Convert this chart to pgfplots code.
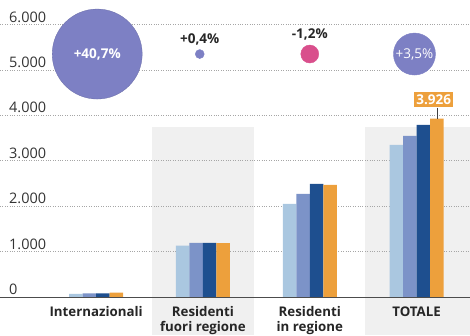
\documentclass[border=0pt]{standalone}
\usepackage{pgfplots}
\pgfplotsset{compat=1.18}
\usepackage{fontspec}
\setmainfont{Open Sans}
\definecolor{cA}{HTML}{AAC7E0}
\definecolor{cB}{HTML}{7C93C8}
\definecolor{cC}{HTML}{1E4F8F}
\definecolor{cD}{HTML}{EDA03C}
\definecolor{bub}{HTML}{7D80C4}
\definecolor{pinkb}{HTML}{D94F8C}
\definecolor{band}{HTML}{F0F0F0}
\definecolor{txt}{HTML}{333333}
\begin{document}
\begin{tikzpicture}
\begin{axis}[
  set layers=standard,
  scale only axis, width=470pt, height=297pt,
  xmin=-0.9, xmax=3.5, ymin=0, ymax=6540,
  clip=false,
  axis line style={draw=none},
  major tick length=0pt,
  xtick={0,1,2,3},
  xticklabels={Internazionali,{Residenti\\fuori regione},{Residenti\\in regione},TOTALE},
  xticklabel style={align=center, font=\bfseries\fontsize{13.3}{15}\selectfont, text=black!85, anchor=north, yshift=-6pt},
  ytick={0,1000,2000,3000,4000,5000,6000},
  yticklabel style={anchor=south west, inner sep=1pt, xshift=8pt, yshift=1pt, font=\fontsize{14.5}{16}\selectfont, text=txt},
  /pgf/number format/.cd, 1000 sep={.}, assume math mode=true, /pgfplots/.cd,
  ymajorgrids, grid style={dotted, line width=0.7pt, gray!70},
  ybar=0pt, bar width=13.5pt,
]
\begin{pgfonlayer}{axis background}
\fill[band] (axis cs:0.52,-840) rectangle (axis cs:1.48,3750);
\fill[band] (axis cs:2.52,-840) rectangle (axis cs:3.5,3750);
\end{pgfonlayer}
\addplot[fill=cA, draw=none] coordinates {(0,70) (1,1130) (2,2050) (3,3350)};
\addplot[fill=cB, draw=none] coordinates {(0,80) (1,1190) (2,2270) (3,3550)};
\addplot[fill=cC, draw=none] coordinates {(0,80) (1,1190) (2,2490) (3,3790)};
\addplot[fill=cD, draw=none] coordinates {(0,95) (1,1185) (2,2470) (3,3926)};
\draw[black!70, line width=0.9pt] (axis cs:-0.9,0) -- (axis cs:3.5,0);
% bubbles
\addplot[color=bub, only marks, mark=*, mark size=45pt, mark options={fill=bub, draw=bub!85!black, line width=0.3pt}, forget plot] coordinates {(0.01,5350)};
\addplot[color=bub, only marks, mark=*, mark size=4.5pt, mark options={fill=bub, draw=bub}, forget plot] coordinates {(0.97,5350)};
\addplot[color=pinkb, only marks, mark=*, mark size=9pt, mark options={fill=pinkb, draw=pinkb}, forget plot] coordinates {(2.0,5350)};
\addplot[color=bub, only marks, mark=*, mark size=21pt, mark options={fill=bub, draw=bub}, forget plot] coordinates {(2.98,5350)};
\begin{pgfonlayer}{axis foreground}
\node[text=white, font=\bfseries\fontsize{13.5}{15}\selectfont] at (axis cs:0.01,5350) {+40,7\%};
\node[text=black!85, font=\bfseries\fontsize{13.5}{15}\selectfont] at (axis cs:0.97,5680) {+0,4\%};
\node[text=black!85, font=\bfseries\fontsize{13.5}{15}\selectfont] at (axis cs:2.0,5790) {-1,2\%};
\node[text=white, font=\fontsize{13.5}{15}\selectfont] at (axis cs:2.98,5350) {+3,5\%};
\draw[black!75, line width=0.6pt] (axis cs:3.19,4170) -- (axis cs:3.19,3926);
\node[fill=cD, text=white, font=\bfseries\fontsize{13.5}{15}\selectfont, inner sep=1.5pt, minimum width=39pt, minimum height=15pt] at (axis cs:3.16,4350) {3.926};
\end{pgfonlayer}
\end{axis}
\pgfresetboundingbox
\useasboundingbox (0pt,-38pt) rectangle (470pt,297pt);
\end{tikzpicture}
\end{document}
